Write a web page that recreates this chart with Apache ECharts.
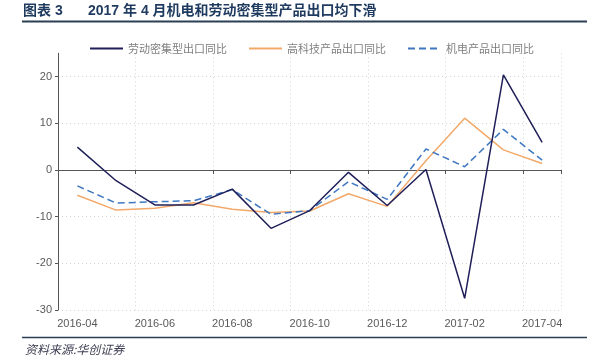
<!DOCTYPE html>
<html>
<head>
<meta charset="utf-8">
<script src="https://cdn.jsdelivr.net/npm/echarts@6/dist/echarts.min.js"></script>
<style>
html,body{margin:0;padding:0;background:#fff;}
#c{width:600px;height:364px;}
</style>
</head>
<body>
<div id="c"></div>
<script>
var categories = ['2016-04','2016-05','2016-06','2016-07','2016-08','2016-09','2016-10','2016-11','2016-12','2017-01','2017-02','2017-03','2017-04'];
var laborIntensive = [4.9, -2.3, -7.5, -7.5, -4.1, -12.5, -8.7, -0.5, -7.6, 0.1, -27.5, 20.4, 5.9];
var highTech = [-5.4, -8.6, -8.2, -7.0, -8.4, -9.1, -8.8, -5.1, -7.8, 2.0, 11.1, 4.3, 1.4];
var electroMech = [-3.4, -7.1, -6.8, -6.6, -4.2, -9.5, -8.7, -2.5, -6.3, 4.5, 0.7, 8.7, 2.1];
var seriesNames = ['劳动密集型出口同比', '高科技产品出口同比', '机电产品出口同比'];
var titleLabel = '图表 3';
var titleText = '2017 年 4 月机电和劳动密集型产品出口均下滑';
var sourceText = '资料来源:华创证券';

var FONT = '"Liberation Sans", "Noto Sans CJK SC", sans-serif';
var chart = echarts.init(document.getElementById('c'));
chart.setOption({
  backgroundColor: '#fff',
  animation: false,
  textStyle: { fontFamily: FONT },
  grid: { left: 58, right: 38.5, top: 53.3, bottom: 54 },
  legend: {
    left: 84, top: 38,
    itemWidth: 33, itemHeight: 10, itemGap: 21,
    itemStyle: { opacity: 0 },
    textStyle: { color: '#7f7f7f', fontSize: 11, fontFamily: '"Noto Sans CJK SC", sans-serif' },
    data: seriesNames
  },
  xAxis: [{
    type: 'category', data: categories, boundaryGap: true,
    axisLine: { show: false, onZero: false },
    axisTick: { show: false, interval: 1 },
    axisLabel: { interval: 1, color: '#595959', fontSize: 11, margin: 8 },
    splitLine: { show: true, interval: 1, lineStyle: { color: '#d4d4d4', type: [1, 3], width: 1 } }
  }, {
    type: 'category', data: categories, boundaryGap: true, position: 'bottom',
    axisLine: { show: true, onZero: true, onZeroAxisIndex: 0, lineStyle: { color: '#555', width: 1 } },
    axisTick: { show: true, interval: 1, length: 4, lineStyle: { color: '#555' } },
    axisLabel: { show: false },
    splitLine: { show: false }
  }],
  yAxis: {
    type: 'value', min: -30, max: 25, interval: 10,
    axisLine: { show: true, lineStyle: { color: '#555', width: 1 } },
    axisTick: { show: true, length: 3, lineStyle: { color: '#555' } },
    axisLabel: { color: '#595959', fontSize: 11, margin: 6, showMaxLabel: false },
    splitLine: { show: true, showMaxLine: false, lineStyle: { color: '#d4d4d4', type: [1, 3], width: 1 } }
  },
  series: [{
    name: seriesNames[0], type: 'line', data: laborIntensive, showSymbol: false, symbol: 'none',
    lineStyle: { color: '#1f1f5a', width: 1.5 }, itemStyle: { color: '#1f1f5a' }, z: 4
  }, {
    name: seriesNames[1], type: 'line', data: highTech, showSymbol: false, symbol: 'none',
    lineStyle: { color: '#f2a96a', width: 1.5 }, itemStyle: { color: '#f2a96a' }, z: 2
  }, {
    name: seriesNames[2], type: 'line', data: electroMech, showSymbol: false, symbol: 'none',
    lineStyle: { color: '#3f78c0', width: 1.5, type: [7, 4] }, itemStyle: { color: '#3f78c0' }, z: 3
  }],
  graphic: [
    { type: 'text', left: 23, top: 4, style: { text: titleLabel, font: 'bold 14px ' + FONT, fill: '#1f3a5f' } },
    { type: 'text', left: 88, top: 4, style: { text: titleText, font: 'bold 14px ' + FONT, fill: '#1f3a5f' } },
    { type: 'line', shape: { x1: 22, y1: 21.5, x2: 587, y2: 21.5 }, style: { stroke: '#2b3f55', lineWidth: 2 } },
    { type: 'line', shape: { x1: 22, y1: 337.5, x2: 587, y2: 337.5 }, style: { stroke: '#2b3f55', lineWidth: 1.5 } },
    { type: 'text', left: 25, top: 343, style: { text: sourceText, font: 'italic 12px "Noto Sans CJK SC", sans-serif', fill: '#404055' } }
  ]
});
</script>
</body>
</html>
